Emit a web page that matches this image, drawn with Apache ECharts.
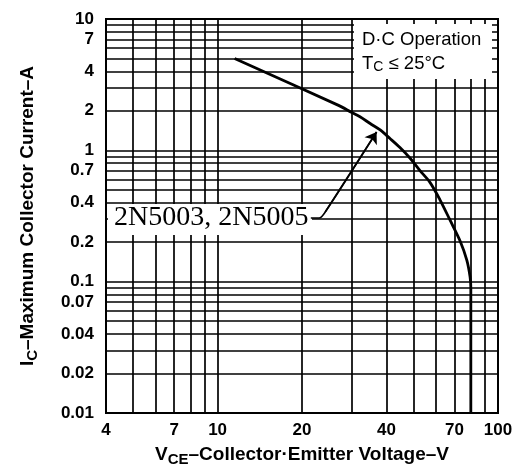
<!doctype html>
<html>
  <head>
    <meta charset="utf-8">
    <title>2N5003 DC operation</title>
    <style>
      html, body { margin: 0; padding: 0; background: #fff; }
      #main { width: 525px; height: 472px; }
    </style>
  </head>
  <body>
    <div id="main"></div>
    <script src="https://cdn.jsdelivr.net/npm/echarts@6/dist/echarts.min.js"></script>
    <script type="text/javascript">
    // curve
    var vce = [11.5, 27, 30, 32.2, 35, 38, 41.2, 44.7, 48.6, 52.7, 57.2, 62.1, 67.4, 73.2, 77.4, 79.5, 80, 80];
    var ic  = [5, 2.2, 1.95, 1.8, 1.6, 1.43, 1.23, 1.05, 0.87, 0.7, 0.57, 0.42, 0.295, 0.205, 0.146, 0.109, 0.09, 0.01];

    // log grid lines + tick labels
    var xGrid = [5, 6, 7, 8, 9, 10, 20, 30, 40, 50, 60, 70, 80, 90];
    var yGrid = [0.02, 0.03, 0.04, 0.05, 0.06, 0.07, 0.08, 0.09, 0.1,
                 0.2, 0.3, 0.4, 0.5, 0.6, 0.7, 0.8, 0.9, 1,
                 2, 3, 4, 5, 6, 7, 8, 9];
    var xLabels = [4, 7, 10, 20, 40, 70, 100];
    var yLabels = [0.01, 0.02, 0.04, 0.07, 0.1, 0.2, 0.4, 0.7, 1, 2, 4, 7, 10];

    // leader from the part-number label to the curve
    var leadV = [21.5, 23, 24.2, 36.9];
    var leadI = [0.305, 0.305, 0.339, 1.38];

    var curve = [];
    for (var i = 0; i < vce.length; i++) curve.push([vce[i], ic[i]]);
    var leader = [];
    for (i = 0; i < leadV.length; i++) leader.push([leadV[i], leadI[i]]);

    function fmt(v) { return String(parseFloat(Number(v).toPrecision(6))); }

    var myChart = echarts.init(document.getElementById('main'));
    var lineCol = '#000';

    var option = {
        animation: false,
        backgroundColor: '#fff',
        grid: {
            left: 106, right: 27, top: 19, bottom: 59,
            show: true, borderColor: lineCol, borderWidth: 2
        },
        xAxis: {
            type: 'log', logBase: 10, min: 4, max: 100,
            name: '{a|V}{s|CE}{a|\u2013Collector\u00b7Emitter Voltage\u2013V}',
            nameLocation: 'middle', nameGap: 30,
            nameTextStyle: {
                rich: {
                    a: { fontFamily: 'Liberation Sans', fontWeight: 'bold', fontSize: 19, color: '#000' },
                    s: { fontFamily: 'Liberation Sans', fontWeight: 'bold', fontSize: 15, color: '#000', padding: [9, 0, 0, 0] }
                }
            },
            axisLine: { show: false },
            axisTick: { show: false, customValues: xGrid },
            axisLabel: {
                customValues: xLabels, formatter: fmt, margin: 9,
                fontFamily: 'Liberation Sans', fontWeight: 'bold', fontSize: 17, color: '#000'
            },
            splitLine: { show: true, lineStyle: { color: lineCol, width: 1.7 } }
        },
        yAxis: {
            type: 'log', logBase: 10, min: 0.01, max: 10,
            name: '{a|I}{s|C}{a|\u2013Maximum Collector Current\u2013A}',
            nameLocation: 'middle', nameGap: 66, nameRotate: 90,
            nameTextStyle: {
                rich: {
                    a: { fontFamily: 'Liberation Sans', fontWeight: 'bold', fontSize: 19, color: '#000' },
                    s: { fontFamily: 'Liberation Sans', fontWeight: 'bold', fontSize: 15, color: '#000', padding: [9, 0, 0, 0] }
                }
            },
            axisLine: { show: false },
            axisTick: { show: false, customValues: yGrid },
            axisLabel: {
                customValues: yLabels, formatter: fmt, margin: 12,
                fontFamily: 'Liberation Sans', fontWeight: 'bold', fontSize: 17, color: '#000'
            },
            splitLine: { show: true, lineStyle: { color: lineCol, width: 1.7 } }
        },
        graphic: [
            {   // white patch behind the conditions text
                type: 'rect', z: 100,
                shape: { x: 354, y: 24, width: 138, height: 55 },
                style: { fill: '#fff' }
            },
            {
                type: 'text', z: 101, left: 362, top: 30,
                style: { text: 'D\u00b7C Operation', font: '18.5px "Liberation Sans"', fill: '#000' }
            },
            {
                type: 'text', z: 101, left: 362, top: 54,
                style: {
                    text: '{a|T}{s|C}{a| \u2264 25\u00b0C}',
                    rich: {
                        a: { fontFamily: 'Liberation Sans', fontSize: 18.5, fill: '#000' },
                        s: { fontFamily: 'Liberation Sans', fontSize: 14, fill: '#000', padding: [8, 0, 0, 0] }
                    }
                }
            },
            {   // part-number label box
                type: 'rect', z: 100,
                shape: { x: 108, y: 204, width: 204, height: 31 },
                style: { fill: '#fff' }
            },
            {
                type: 'text', z: 101, left: 114, top: 204,
                style: { text: '2N5003, 2N5005', font: '28px "Liberation Serif"', fill: '#000' }
            }
        ],
        series: [
            {
                name: '2N5003, 2N5005',
                type: 'line',
                data: curve,
                symbol: 'none',
                smooth: 0.3,
                z: 5,
                lineStyle: { color: '#000', width: 2.8 }
            },
            {
                name: 'leader',
                type: 'line',
                data: leader,
                symbol: 'none',
                smooth: 0.3,
                z: 102,
                lineStyle: { color: '#000', width: 1.6 },
                markLine: {
                    silent: true,
                    symbol: ['none', 'arrow'],
                    symbolSize: 11,
                    label: { show: false },
                    lineStyle: { color: '#000', width: 1.6, type: 'solid' },
                    data: [[{ coord: leader[2] }, { coord: leader[3] }]]
                }
            }
        ]
    };
    myChart.setOption(option);
    </script>
  </body>
</html>
